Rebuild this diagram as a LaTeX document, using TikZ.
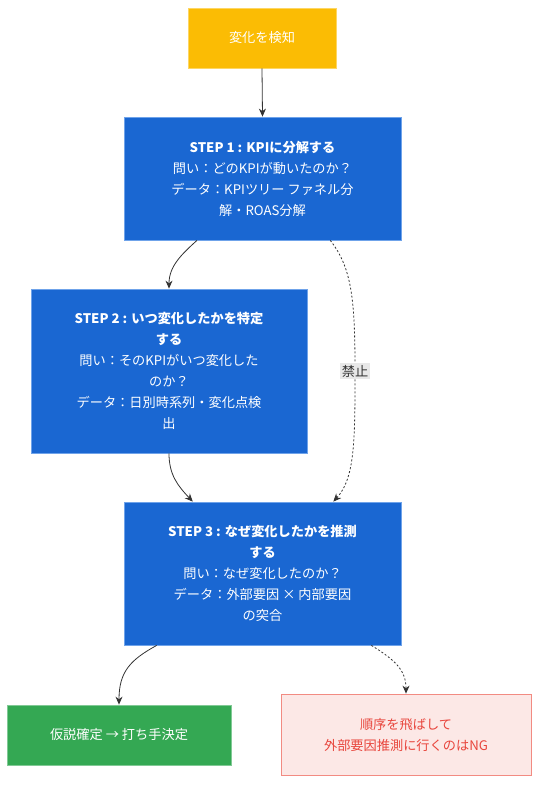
\documentclass[tikz,border=0pt]{standalone}
\usepackage{fontspec}
\setmainfont{Noto Sans CJK JP}
\usetikzlibrary{arrows.meta,calc}
\definecolor{ylw}{HTML}{FBBC04}
\definecolor{ylwb}{HTML}{FDD663}
\definecolor{blu}{HTML}{1A67D2}
\definecolor{blub}{HTML}{6FA3EA}
\definecolor{grn}{HTML}{34A853}
\definecolor{grnb}{HTML}{81C995}
\definecolor{pnk}{HTML}{FCE8E6}
\definecolor{pnkb}{HTML}{F28B82}
\definecolor{redt}{HTML}{E8453C}
\definecolor{edge}{HTML}{333333}
\begin{document}
\begin{tikzpicture}[x=1pt,y=1pt,
  box/.style={rectangle,draw,line width=0.8pt,align=center,inner sep=0pt,
    font=\fontsize{13.2}{21}\selectfont},
  yb/.style={box,fill=ylw,draw=ylwb,text=white},
  bb/.style={box,fill=blu,draw=blub,text=white},
  gb/.style={box,fill=grn,draw=grnb,text=white},
  rb/.style={box,fill=pnk,draw=pnkb,text=redt},
  conn/.style={draw=edge,line width=0.8pt,-{Stealth[length=8pt,width=7pt]}},
  dconn/.style={conn,dash pattern=on 2pt off 2pt},
  lbl/.style={fill=black!9,text=edge,inner sep=1.5pt,font=\fontsize{13.2}{16}\selectfont}
]
\useasboundingbox (0,0) rectangle (547,-794);
\fill[white] (0,0) rectangle (547,-794);

\node[yb,minimum width=148pt,minimum height=60pt] (det) at (262,-38) {変化を検知};
\node[bb,minimum width=277pt,minimum height=123pt] (s1) at (262.5,-178.5)
  {\textbf{STEP 1 : KPIに分解する}\\問い：どのKPIが動いたのか？\\データ：KPIツリー ファネル分\\解・ROAS分解};
\node[bb,minimum width=276pt,minimum height=164pt] (s2) at (169,-371)
  {\textbf{STEP 2 : いつ変化したかを特定}\\\textbf{する}\\問い：そのKPIがいつ変化した\\のか？\\データ：日別時系列・変化点検\\出};
\node[bb,minimum width=277pt,minimum height=143pt] (s3) at (262.5,-573.5)
  {\textbf{STEP 3 : なぜ変化したかを推測}\\\textbf{する}\\問い：なぜ変化したのか？\\データ：外部要因 × 内部要因\\の突合};
\node[gb,minimum width=224pt,minimum height=60pt] (ok) at (119,-735)
  {仮説確定 → 打ち手決定};
\node[rb,minimum width=250pt,minimum height=81pt] (ng) at (406,-734.5)
  {順序を飛ばして\\外部要因推測に行くのはNG};

\draw[conn] (det.south) -- (s1.north);
\coordinate (s1a) at ($(s1.south west)!0.264!(s1.south east)$);
\coordinate (s1b) at ($(s1.south west)!0.744!(s1.south east)$);
\coordinate (s3a) at ($(s3.north west)!0.249!(s3.north east)$);
\coordinate (s3b) at ($(s3.north west)!0.755!(s3.north east)$);
\coordinate (s3c) at ($(s3.south west)!0.119!(s3.south east)$);
\coordinate (s3d) at ($(s3.south west)!0.892!(s3.south east)$);

\draw[conn] (s1a) .. controls (182,-254) and (169,-266) .. (s2.north);
\draw[conn] (s2.south) .. controls (169,-475) and (178,-486) .. (s3a);
\draw[dconn] (s1b) .. controls (352,-268) and (355,-300) .. (355,-371)
  .. controls (355,-440) and (355,-478) .. (s3b);
\node[lbl] (forbid) at (355,-371) {禁止};
\draw[conn] (s3c) .. controls (130,-660) and (119,-672) .. (ok.north);
\draw[dconn] (s3d) .. controls (395,-660) and (406,-670) .. (ng.north);
\end{tikzpicture}
\end{document}
